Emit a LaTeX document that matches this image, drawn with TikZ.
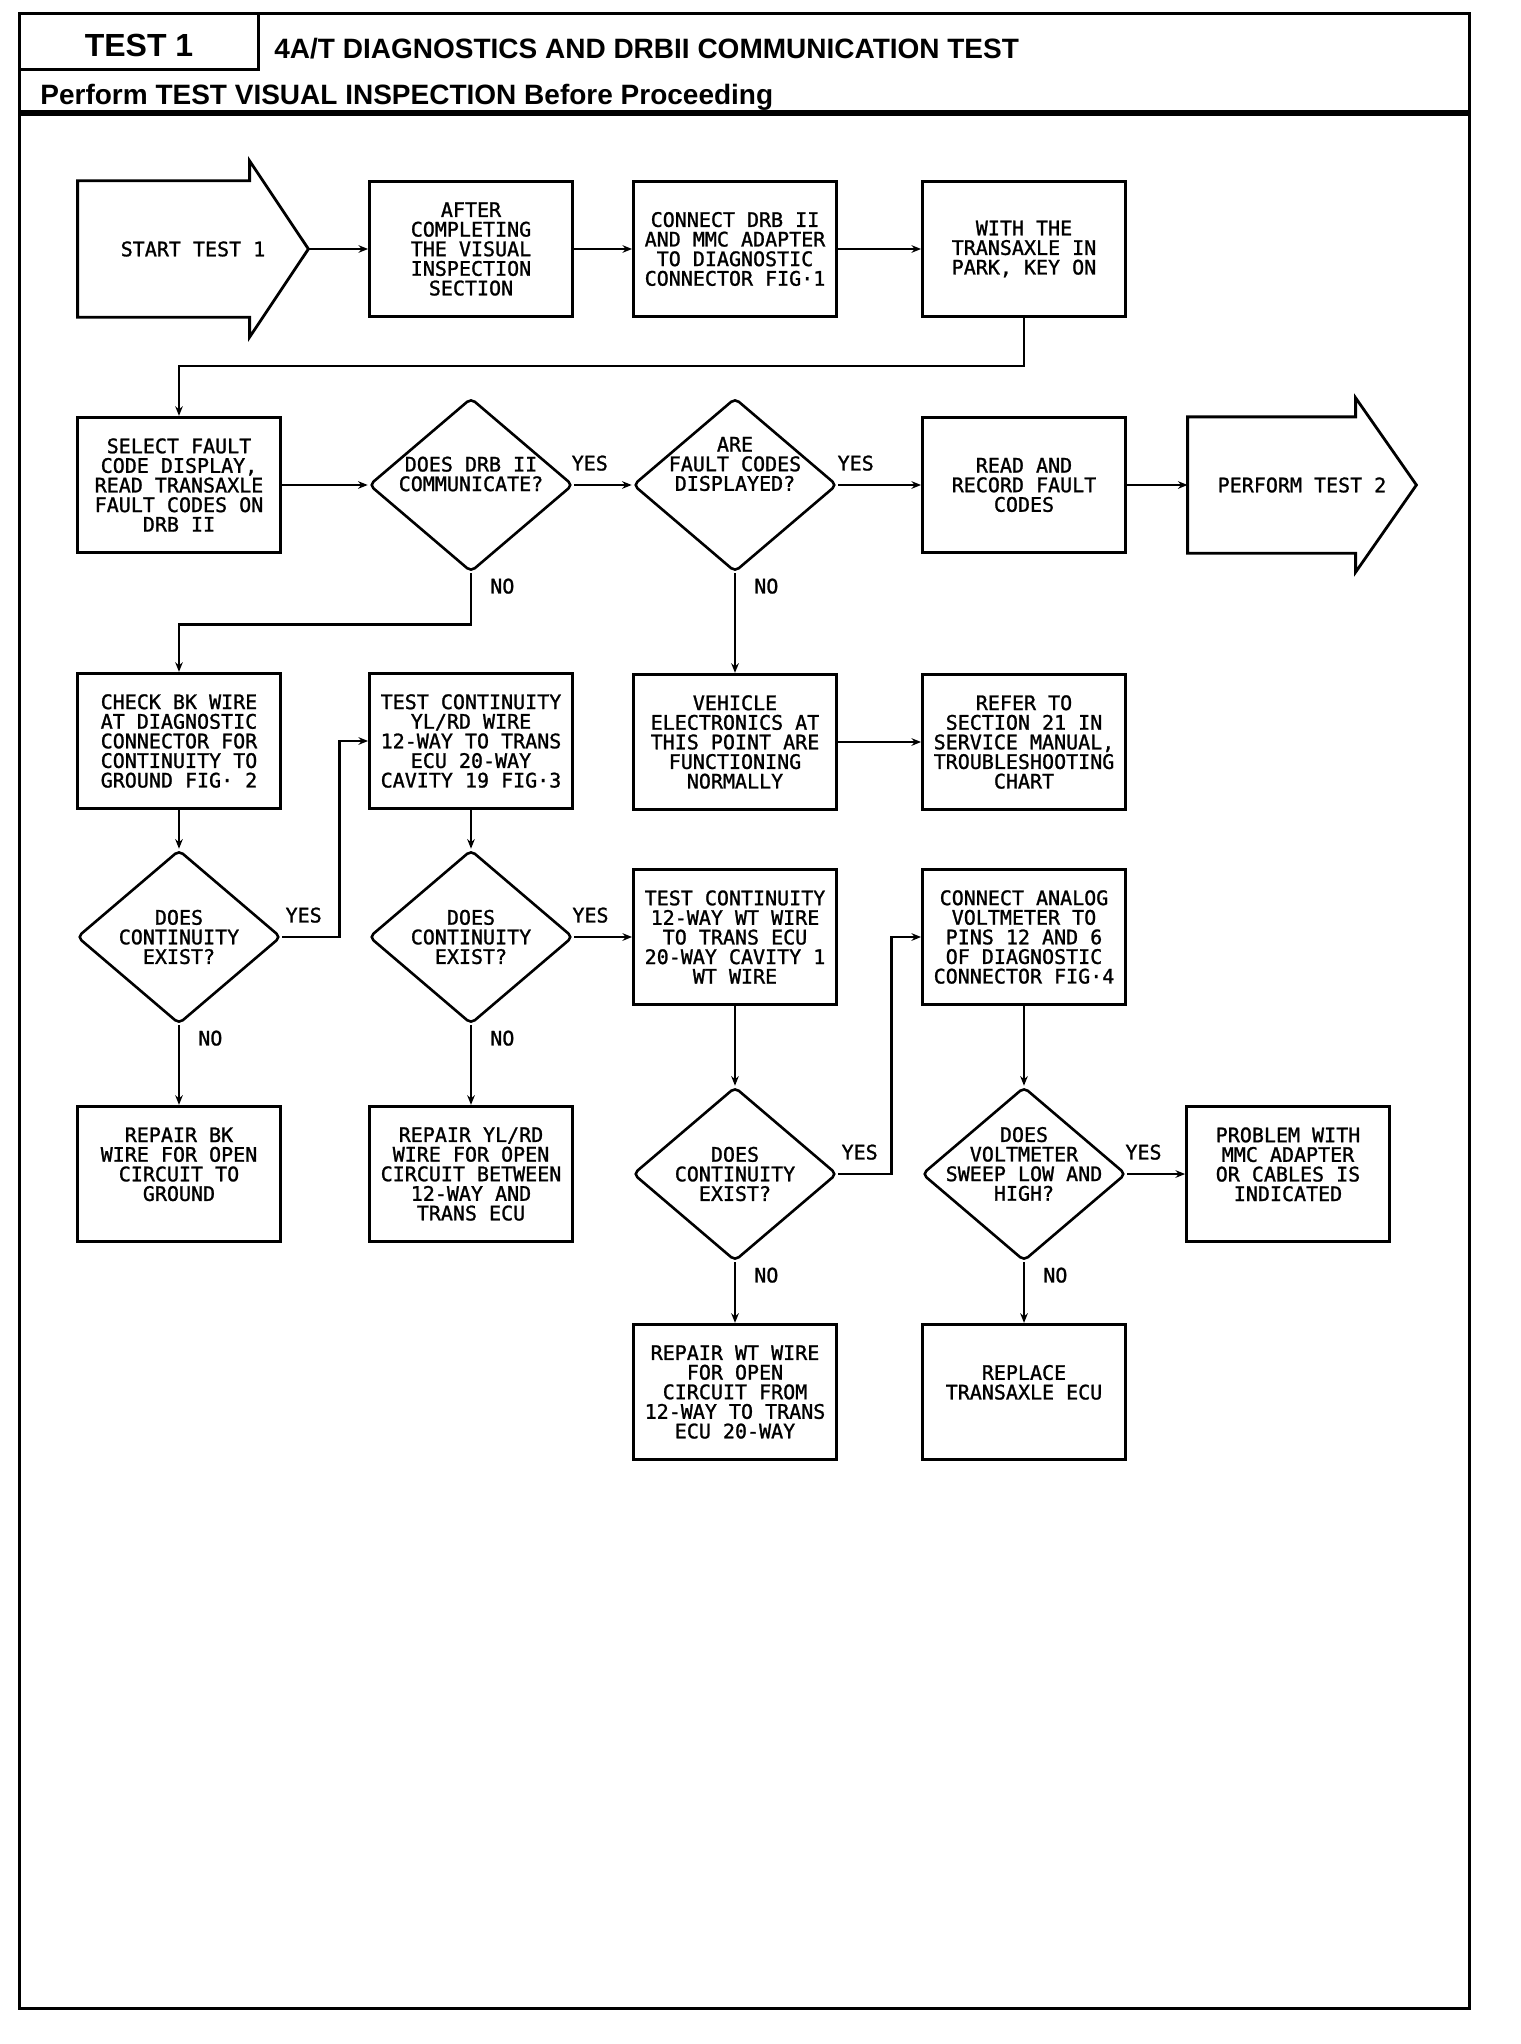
\documentclass[tikz,border=0pt]{standalone}
\usepackage{fontspec}
\newfontfamily\plotfont[FakeBold=1.2]{DejaVu Sans Mono}
\newfontfamily\headfont{Liberation Sans}
\usetikzlibrary{arrows.meta, shapes.geometric}

\begin{document}
\begin{tikzpicture}[x=0.5pt, y=-0.5pt, >={Stealth[length=4.8pt, width=3.8pt]},
    box/.style={draw, line width=1.4pt, minimum width=101.5pt, minimum height=67.75pt,
                inner sep=0pt, align=center, font=\plotfont\fontsize{10}{9.8}\selectfont},
    bigarrow/.style={minimum height=67.75pt, inner sep=0pt,
                     font=\plotfont\fontsize{10}{9.8}\selectfont},
    decide/.style={diamond, draw, line width=1.3pt, minimum width=102pt,
                   minimum height=87pt, inner sep=0pt, rounded corners=2.5pt},
    dtext/.style={align=center, inner sep=0pt, font=\plotfont\fontsize{10}{9.8}\selectfont},
    lbl/.style={inner sep=0pt, font=\plotfont\fontsize{10}{9.8}\selectfont},
    flow/.style={->, line width=1.3pt},
    frameline/.style={line width=1.5pt},
    headtext/.style={inner sep=0pt, font=\headfont\bfseries\fontsize{14}{16}\selectfont}]

  \fill[white] (0,0) rectangle (1520,2044);
  \useasboundingbox (0,0) rectangle (1520,2044);

  % Frame and header
  \draw[frameline] (19,14) rectangle (1469,2008);
  \draw[frameline] (19,70) -| (258,14);
  \draw[line width=2.6pt] (19,113) -- (1469,113);
  \node[headtext, font=\headfont\bfseries\fontsize{16}{18}\selectfont] (testno) at (139,45) {TEST 1};
  \node[headtext, anchor=base west] (title) at (274,59)
    {4A/T DIAGNOSTICS AND DRBII COMMUNICATION TEST};
  \node[headtext, anchor=base west] (subtitle) at (40,105)
    {Perform TEST VISUAL INSPECTION Before Proceeding};

  % Row 1
  \node[bigarrow, minimum width=115pt] (start) at (193,249) {START TEST 1\hspace{12pt}};
  \draw[line width=1.4pt] (start.south west) -- (start.north west) -- ++(172,0) -- ++(0,-20)
    -- (start.east) -- ([shift={(172,20)}]start.south west) -- ++(0,-20) -- cycle;
  \node[box] (after) at (471,249) {AFTER\\COMPLETING\\THE VISUAL\\INSPECTION\\SECTION};
  \node[box] (conndrb) at (735,249) {CONNECT DRB II\\AND MMC ADAPTER\\TO DIAGNOSTIC\\CONNECTOR FIG·1};
  \node[box] (withkey) at (1024,249) {WITH THE\\TRANSAXLE IN\\PARK, KEY ON};

  % Row 2
  \node[box] (select) at (179,485) {SELECT FAULT\\CODE DISPLAY,\\READ TRANSAXLE\\FAULT CODES ON\\DRB II};
  \node[decide] (drbcomm) at (471,485) {};
  \node[dtext] (drbcommtxt) at ([yshift=5.5pt]drbcomm.center) {DOES DRB II\\COMMUNICATE?};
  \node[decide] (codes) at (735,485) {};
  \node[dtext] (codestxt) at ([yshift=10.5pt]codes.center) {ARE\\FAULT CODES\\DISPLAYED?};
  \node[box] (record) at (1024,485) {READ AND\\RECORD FAULT\\CODES};
  \node[bigarrow, minimum width=114pt] (test2) at (1302,485) {PERFORM TEST 2\hspace{6pt}};
  \draw[line width=1.4pt] (test2.south west) -- (test2.north west) -- ++(168,0) -- ++(0,-19)
    -- (test2.east) -- ([shift={(168,19)}]test2.south west) -- ++(0,-19) -- cycle;

  % Row 3
  \node[box] (check) at (179,741) {CHECK BK WIRE\\AT DIAGNOSTIC\\CONNECTOR FOR\\CONTINUITY TO\\GROUND FIG· 2};
  \node[box] (testyl) at (471,741) {TEST CONTINUITY\\YL/RD WIRE\\12-WAY TO TRANS\\ECU 20-WAY\\CAVITY 19 FIG·3};
  \node[box] (vehicle) at (735,742) {VEHICLE\\ELECTRONICS AT\\THIS POINT ARE\\FUNCTIONING\\NORMALLY};
  \node[box] (refer) at (1024,742) {REFER TO\\SECTION 21 IN\\SERVICE MANUAL,\\TROUBLESHOOTING\\CHART};

  % Row 4
  \node[decide] (contbk) at (179,937) {};
  \node[dtext] (contbktxt) at (contbk.center) {DOES\\CONTINUITY\\EXIST?};
  \node[decide] (contyl) at (471,937) {};
  \node[dtext] (contyltxt) at (contyl.center) {DOES\\CONTINUITY\\EXIST?};
  \node[box] (test12) at (735,937) {TEST CONTINUITY\\12-WAY WT WIRE\\TO TRANS ECU\\20-WAY CAVITY 1\\WT WIRE};
  \node[box] (analog) at (1024,937) {CONNECT ANALOG\\VOLTMETER TO\\PINS 12 AND 6\\OF DIAGNOSTIC\\CONNECTOR FIG·4};

  % Row 5
  \node[box] (repbk) at (179,1174) {REPAIR BK\\WIRE FOR OPEN\\CIRCUIT TO\\GROUND\\~};
  \node[box] (repyl) at (471,1174) {REPAIR YL/RD\\WIRE FOR OPEN\\CIRCUIT BETWEEN\\12-WAY AND\\TRANS ECU};
  \node[decide] (contwt) at (735,1174) {};
  \node[dtext] (contwttxt) at (contwt.center) {DOES\\CONTINUITY\\EXIST?};
  \node[decide] (sweep) at (1024,1174) {};
  \node[dtext] (sweeptxt) at ([yshift=5pt]sweep.center) {DOES\\VOLTMETER\\SWEEP LOW AND\\HIGH?};
  \node[box] (problem) at (1288,1174) {PROBLEM WITH\\MMC ADAPTER\\OR CABLES IS\\INDICATED\\~};

  % Row 6
  \node[box] (repwt) at (735,1392) {REPAIR WT WIRE\\FOR OPEN\\CIRCUIT FROM\\12-WAY TO TRANS\\ECU 20-WAY};
  \node[box] (replace) at (1024,1392) {REPLACE\\TRANSAXLE ECU\\~};

  % Connectors
  \draw[flow] (start.east) -- (after.west);
  \draw[flow] (after.east) -- (conndrb.west);
  \draw[flow] (conndrb.east) -- (withkey.west);
  \draw[flow] (withkey.south) -- ++(0,48) -| (select.north);
  \draw[flow] (select.east) -- (drbcomm.west);
  \draw[flow] (drbcomm.east) -- node[lbl, above=6.5pt, pos=0.27] (yes1) {YES} (codes.west);
  \draw[flow] (codes.east) -- node[lbl, above=6.5pt, pos=0.21] (yes2) {YES} (record.west);
  \draw[flow] (record.east) -- (test2.west);
  \draw[flow] (drbcomm.south) -- node[lbl, pos=0, anchor=north west, xshift=9pt, yshift=-2pt] (no1) {NO}
    ++(0,51) -| (check.north);
  \draw[flow] (codes.south) -- node[lbl, pos=0, anchor=north west, xshift=9pt, yshift=-2pt] (no2) {NO}
    (vehicle.north);
  \draw[flow] (vehicle.east) -- (refer.west);

  \draw[flow] (check.south) -- (contbk.north);
  \draw[flow] (contbk.east) -- node[lbl, pos=0, anchor=south west, xshift=1pt, yshift=6.5pt] (yes3) {YES}
    ++(57,0) |- (testyl.west);
  \draw[flow] (testyl.south) -- (contyl.north);
  \draw[flow] (contyl.east) -- node[lbl, above=6.5pt, pos=0.28] (yes4) {YES} (test12.west);
  \draw[flow] (contbk.south) -- node[lbl, pos=0, anchor=north west, xshift=9pt, yshift=-2pt] (no3) {NO}
    (repbk.north);
  \draw[flow] (contyl.south) -- node[lbl, pos=0, anchor=north west, xshift=9pt, yshift=-2pt] (no4) {NO}
    (repyl.north);

  \draw[flow] (test12.south) -- (contwt.north);
  \draw[flow] (analog.south) -- (sweep.north);
  \draw[flow] (contwt.east) -- node[lbl, pos=0, anchor=south west, xshift=1pt, yshift=6.5pt] (yes5) {YES}
    ++(53,0) |- (analog.west);
  \draw[flow] (sweep.east) -- node[lbl, above=6.5pt, pos=0.28] (yes6) {YES} (problem.west);
  \draw[flow] (contwt.south) -- node[lbl, pos=0, anchor=north west, xshift=9pt, yshift=-2pt] (no5) {NO}
    (repwt.north);
  \draw[flow] (sweep.south) -- node[lbl, pos=0, anchor=north west, xshift=9pt, yshift=-2pt] (no6) {NO}
    (replace.north);
\end{tikzpicture}
\end{document}
